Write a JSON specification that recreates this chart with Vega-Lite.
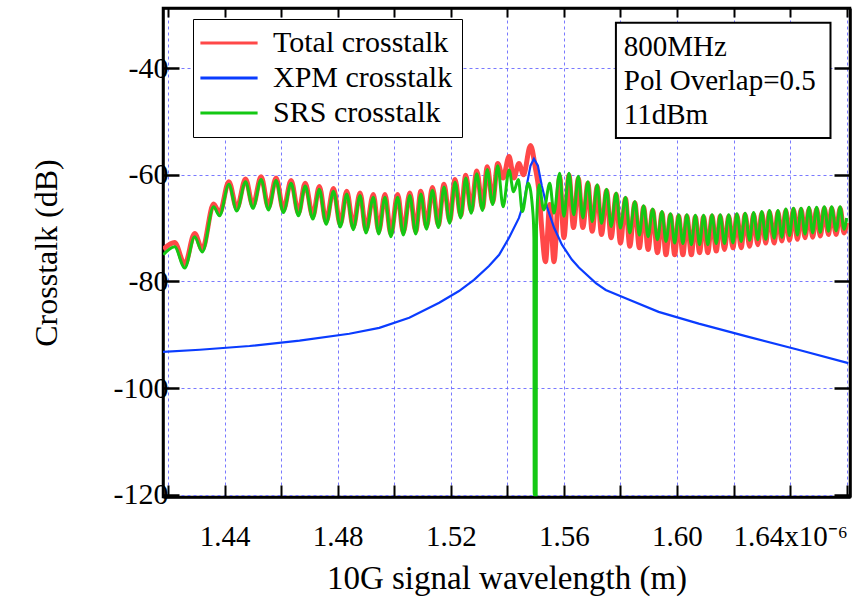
{
  "$schema": "https://vega.github.io/schema/vega-lite/v6.json",
  "width": 687,
  "height": 489,
  "autosize": {"type": "none"},
  "padding": {"left": 163, "top": 8, "right": 3, "bottom": 105},
  "background": "white",
  "config": {
    "view": {"stroke": "black", "strokeWidth": 2.5},
    "font": "Liberation Serif",
    "axis": {"labelFont": "Liberation Serif", "titleFont": "Liberation Serif"},
    "legend": {"labelFont": "Liberation Serif"}
  },
  "datasets": {
    "tot": [
      {"w":1.4183,"v":-74.0},{"w":1.4223,"v":-72.7},{"w":1.4259,"v":-76.8},{"w":1.4294,"v":-71.0},{"w":1.4321,"v":-74.0},
      {"w":1.4361,"v":-65.5},{"w":1.4382,"v":-67.2},{"w":1.4415,"v":-61.3},{"w":1.4443,"v":-66.3},{"w":1.4474,"v":-60.8},
      {"w":1.45,"v":-65.8},{"w":1.4529,"v":-60.4},{"w":1.4555,"v":-66.1},{"w":1.4582,"v":-60.6},{"w":1.4608,"v":-66.6},
      {"w":1.4635,"v":-61.1},{"w":1.4661,"v":-67.2},{"w":1.4685,"v":-61.6},{"w":1.4712,"v":-67.8},{"w":1.4735,"v":-62.2},
      {"w":1.4759,"v":-68.8},{"w":1.4785,"v":-62.6},{"w":1.4809,"v":-69.3},{"w":1.4832,"v":-63.1},{"w":1.4855,"v":-69.8},
      {"w":1.4879,"v":-63.4},{"w":1.49,"v":-70.4},{"w":1.4926,"v":-63.7},{"w":1.4945,"v":-70.6},{"w":1.4967,"v":-63.7},
      {"w":1.4988,"v":-71.1},{"w":1.5012,"v":-63.7},{"w":1.5032,"v":-70.8},{"w":1.5055,"v":-63.4},{"w":1.5076,"v":-70.6},
      {"w":1.5094,"v":-63.1},{"w":1.5114,"v":-69.7},{"w":1.5135,"v":-62.4},{"w":1.5156,"v":-69.4},{"w":1.5176,"v":-61.8},
      {"w":1.5196,"v":-68.6},{"w":1.5215,"v":-60.9},{"w":1.5235,"v":-67.6},{"w":1.5253,"v":-60.1},{"w":1.5272,"v":-66.7},
      {"w":1.5292,"v":-59.3},{"w":1.5312,"v":-66.2},{"w":1.5329,"v":-58.5},{"w":1.5348,"v":-65.1},
      {"w":1.5366,"v":-57.9},{"w":1.5385,"v":-60.6},{"w":1.5406,"v":-56.6},{"w":1.5423,"v":-60.6},{"w":1.5441,"v":-57.9},
      {"w":1.5457,"v":-60.0},{"w":1.5482,"v":-54.5},{"w":1.5499,"v":-58.7},{"w":1.5512,"v":-63.2},{"w":1.5522,"v":-70.3},
      {"w":1.5535,"v":-76.3},{"w":1.555,"v":-65.6},{"w":1.5565,"v":-76.3},{"w":1.5585,"v":-60.4},{"w":1.56,"v":-71.8},
      {"w":1.5618,"v":-60.1},{"w":1.5634,"v":-69.9},{"w":1.5651,"v":-60.7},{"w":1.5667,"v":-69.9},
      {"w":1.5685,"v":-61.6},{"w":1.57,"v":-70.6},{"w":1.5718,"v":-62.2},{"w":1.5733,"v":-71.2},{"w":1.5751,"v":-63.0},
      {"w":1.5767,"v":-71.8},{"w":1.5785,"v":-63.7},{"w":1.58,"v":-72.8},{"w":1.5818,"v":-64.5},{"w":1.5833,"v":-73.4},
      {"w":1.5851,"v":-65.3},{"w":1.5867,"v":-73.7},{"w":1.5882,"v":-66.1},{"w":1.5898,"v":-74.0},{"w":1.5914,"v":-66.7},
      {"w":1.5931,"v":-74.6},{"w":1.5947,"v":-67.2},{"w":1.5961,"v":-75.0},{"w":1.5977,"v":-67.6},{"w":1.5992,"v":-75.0},
      {"w":1.6006,"v":-67.8},{"w":1.6021,"v":-75.0},{"w":1.6035,"v":-67.8},{"w":1.6051,"v":-75.0},{"w":1.6065,"v":-67.9},
      {"w":1.608,"v":-74.6},{"w":1.6094,"v":-67.9},{"w":1.6109,"v":-74.6},{"w":1.6124,"v":-67.8},{"w":1.6139,"v":-74.3},
      {"w":1.6153,"v":-67.8},{"w":1.6168,"v":-74.0},{"w":1.6183,"v":-67.8},{"w":1.6198,"v":-73.7},{"w":1.6212,"v":-67.6},
      {"w":1.6227,"v":-73.7},{"w":1.6241,"v":-67.5},{"w":1.6257,"v":-73.4},{"w":1.6271,"v":-67.4},{"w":1.6286,"v":-73.1},
      {"w":1.63,"v":-67.2},{"w":1.6314,"v":-72.8},{"w":1.6327,"v":-67.0},{"w":1.6344,"v":-72.8},{"w":1.6357,"v":-67.0},
      {"w":1.6371,"v":-72.4},{"w":1.6385,"v":-66.7},{"w":1.6398,"v":-72.3},{"w":1.6412,"v":-66.5},{"w":1.6426,"v":-72.1},
      {"w":1.6439,"v":-66.5},{"w":1.6453,"v":-71.8},{"w":1.6467,"v":-66.4},{"w":1.648,"v":-71.7},{"w":1.6494,"v":-66.4},
      {"w":1.6507,"v":-71.5},{"w":1.6521,"v":-66.3},{"w":1.6536,"v":-71.2},{"w":1.6547,"v":-66.3},{"w":1.6563,"v":-71.2},
      {"w":1.6577,"v":-66.3},{"w":1.6591,"v":-70.9},{"w":1.66,"v":-69.0}
    ],
    "srs": [
      {"w":1.4183,"v":-75.0},{"w":1.4223,"v":-73.5},{"w":1.4259,"v":-77.5},{"w":1.4294,"v":-71.6},{"w":1.4321,"v":-74.5},
      {"w":1.4361,"v":-66.0},{"w":1.4382,"v":-67.7},{"w":1.4415,"v":-61.8},{"w":1.4443,"v":-66.8},{"w":1.4474,"v":-61.3},
      {"w":1.45,"v":-66.3},{"w":1.4529,"v":-60.9},{"w":1.4555,"v":-66.6},{"w":1.4582,"v":-61.1},{"w":1.4608,"v":-67.1},
      {"w":1.4635,"v":-61.6},{"w":1.4661,"v":-67.7},{"w":1.4685,"v":-62.1},{"w":1.4712,"v":-68.3},{"w":1.4735,"v":-62.7},
      {"w":1.4759,"v":-69.3},{"w":1.4785,"v":-63.1},{"w":1.4809,"v":-69.8},{"w":1.4832,"v":-63.6},{"w":1.4855,"v":-70.3},
      {"w":1.4879,"v":-63.9},{"w":1.49,"v":-70.9},{"w":1.4926,"v":-64.2},{"w":1.4945,"v":-71.1},{"w":1.4967,"v":-64.2},
      {"w":1.4988,"v":-71.6},{"w":1.5012,"v":-64.2},{"w":1.5032,"v":-71.3},{"w":1.5055,"v":-63.9},{"w":1.5076,"v":-71.1},
      {"w":1.5094,"v":-63.6},{"w":1.5114,"v":-70.2},{"w":1.5135,"v":-62.9},{"w":1.5156,"v":-69.9},{"w":1.5176,"v":-62.3},
      {"w":1.5196,"v":-69.1},{"w":1.5215,"v":-61.4},{"w":1.5235,"v":-68.1},{"w":1.5253,"v":-60.6},{"w":1.5272,"v":-67.2},
      {"w":1.5292,"v":-59.8},{"w":1.5312,"v":-66.7},{"w":1.5329,"v":-59.0},{"w":1.5348,"v":-65.6},{"w":1.5366,"v":-58.3},
      {"w":1.5385,"v":-66.0},{"w":1.5406,"v":-59.1},{"w":1.5422,"v":-63.2},{"w":1.5439,"v":-60.9},{"w":1.5453,"v":-66.9},
      {"w":1.5474,"v":-61.6},{"w":1.5491,"v":-67.5},{"w":1.5494,"v":-72.0},{"w":1.5495,"v":-120},{"w":1.5502,"v":-120},{"w":1.5503,"v":-70.0},
      {"w":1.5512,"v":-61.9},
      {"w":1.5529,"v":-66.6},{"w":1.555,"v":-61.6},{"w":1.5565,"v":-67.2},{"w":1.5585,"v":-59.7},{"w":1.56,"v":-67.8},
      {"w":1.5618,"v":-59.7},{"w":1.5635,"v":-67.5},{"w":1.5651,"v":-60.3},{"w":1.5667,"v":-68.1},{"w":1.5685,"v":-61.3},
      {"w":1.57,"v":-68.8},{"w":1.5718,"v":-61.9},{"w":1.5733,"v":-69.1},{"w":1.5751,"v":-62.7},{"w":1.5767,"v":-69.7},
      {"w":1.5785,"v":-63.4},{"w":1.58,"v":-70.0},{"w":1.5818,"v":-64.2},{"w":1.5833,"v":-70.9},{"w":1.5851,"v":-65.0},
      {"w":1.5867,"v":-71.3},{"w":1.5882,"v":-65.8},{"w":1.5898,"v":-71.6},{"w":1.5914,"v":-66.4},{"w":1.5931,"v":-72.2},
      {"w":1.5947,"v":-66.9},{"w":1.5961,"v":-72.5},{"w":1.5977,"v":-67.3},{"w":1.5992,"v":-72.8},{"w":1.6006,"v":-67.5},
      {"w":1.6021,"v":-72.9},{"w":1.6035,"v":-67.5},{"w":1.6051,"v":-73.1},{"w":1.6065,"v":-67.6},{"w":1.608,"v":-73.1},
      {"w":1.6094,"v":-67.6},{"w":1.6109,"v":-73.1},{"w":1.6124,"v":-67.5},{"w":1.6139,"v":-72.9},{"w":1.6153,"v":-67.5},
      {"w":1.6168,"v":-72.9},{"w":1.6183,"v":-67.5},{"w":1.6198,"v":-72.8},{"w":1.6212,"v":-67.3},{"w":1.6227,"v":-72.5},
      {"w":1.6241,"v":-67.2},{"w":1.6257,"v":-72.3},{"w":1.6271,"v":-67.1},{"w":1.6286,"v":-72.2},{"w":1.63,"v":-66.9},
      {"w":1.6314,"v":-72.1},{"w":1.6327,"v":-66.7},{"w":1.6344,"v":-71.9},{"w":1.6357,"v":-66.7},{"w":1.6371,"v":-71.7},
      {"w":1.6385,"v":-66.4},{"w":1.6398,"v":-71.4},{"w":1.6412,"v":-66.3},{"w":1.6426,"v":-71.3},{"w":1.6439,"v":-66.3},
      {"w":1.6453,"v":-71.1},{"w":1.6467,"v":-66.1},{"w":1.648,"v":-70.9},{"w":1.6494,"v":-66.1},{"w":1.6507,"v":-70.8},
      {"w":1.6521,"v":-66.0},{"w":1.6536,"v":-70.6},{"w":1.6547,"v":-66.0},{"w":1.6563,"v":-70.5},{"w":1.6577,"v":-66.0},
      {"w":1.6591,"v":-70.2},{"w":1.66,"v":-68.1}
    ],
    "xpm": [
      {"w":1.4182,"v":-93.2},{"w":1.4312,"v":-92.8},{"w":1.4488,"v":-92.1},{"w":1.4665,"v":-91.1},{"w":1.4841,"v":-89.8},
      {"w":1.4947,"v":-88.7},{"w":1.5053,"v":-86.8},{"w":1.5159,"v":-84.0},{"w":1.5229,"v":-81.8},{"w":1.5282,"v":-79.7},
      {"w":1.5335,"v":-77.1},{"w":1.5371,"v":-75.0},{"w":1.5406,"v":-71.8},{"w":1.5441,"v":-68.1},{"w":1.5459,"v":-65.1},
      {"w":1.5469,"v":-61.9},{"w":1.5482,"v":-58.3},{"w":1.5494,"v":-57.0},{"w":1.5508,"v":-58.3},{"w":1.5522,"v":-62.1},
      {"w":1.554,"v":-66.0},{"w":1.5565,"v":-69.9},{"w":1.5593,"v":-73.1},{"w":1.5628,"v":-75.9},{"w":1.5653,"v":-77.4},
      {"w":1.5713,"v":-80.3},{"w":1.5748,"v":-81.6},{"w":1.5829,"v":-83.4},{"w":1.5935,"v":-85.7},{"w":1.6077,"v":-87.9},
      {"w":1.6253,"v":-90.4},{"w":1.6429,"v":-92.8},{"w":1.6606,"v":-95.3}
    ]
  },
  "resolve": {"axis": {"x": "independent", "y": "independent"}},
  "layer": [
    {
      "data": {"name": "tot"},
      "mark": {"type": "line", "strokeWidth": 5, "interpolate": "monotone", "clip": true},
      "encoding": {
        "x": {"field": "w", "type": "quantitative",
          "scale": {"domain": [1.4182, 1.6612], "nice": false, "zero": false},
          "axis": {"values": [1.42,1.44,1.46,1.48,1.5,1.52,1.54,1.56,1.58,1.6,1.62,1.64,1.66],
            "grid": true, "gridColor": "#6a6aff", "gridDash": [3,3], "gridWidth": 1, "gridOpacity": 0.9,
            "tickSize": -12, "tickColor": "black", "tickWidth": 2,
            "domainColor": "black", "domainWidth": 2.5,
            "labelFont": "Liberation Serif", "labelFontSize": 29, "labelColor": "black", "labelPadding": 37,
            "labelOverlap": false, "labelFlush": false,
            "labelExpr": "round(datum.value*100) % 4 == 0 ? (round(datum.value*100) == 164 ? '1.64x10⁻⁶' : format(datum.value, '.2f')) : ''",
            "title": "10G signal wavelength (m)", "titleFont": "Liberation Serif", "titleFontSize": 33,
            "titleFontWeight": "normal", "titleColor": "black", "titlePadding": 11}},
        "y": {"field": "v", "type": "quantitative",
          "scale": {"domain": [-120.4, -28.75], "nice": false, "zero": false},
          "axis": {"values": [-120,-100,-80,-60,-40],
            "grid": true, "gridColor": "#6a6aff", "gridDash": [3,3], "gridWidth": 1, "gridOpacity": 0.9,
            "tickSize": -16, "tickColor": "black", "tickWidth": 2.5,
            "domainColor": "black", "domainWidth": 2.5,
            "labelFont": "Liberation Serif", "labelFontSize": 30, "labelColor": "black", "labelPadding": 11,
            "labelExpr": "'-' + abs(datum.value)",
            "title": "Crosstalk (dB)", "titleFont": "Liberation Serif", "titleFontSize": 32,
            "titleFontWeight": "normal", "titleColor": "black", "titlePadding": 50}},
        "color": {"datum": "Total crosstalk", "type": "nominal",
          "scale": {"domain": ["Total crosstalk", "XPM crosstalk", "SRS crosstalk"], "range": ["#ff4848", "#0a3cff", "#14c814"]},
          "legend": {"orient": "none", "legendX": 30, "legendY": 11, "title": null,
            "strokeColor": "black", "fillColor": "white", "padding": 9,
            "labelFont": "Liberation Serif", "labelFontSize": 30, "labelColor": "black", "labelOffset": 29, "labelLimit": 0,
            "symbolType": "M-2.6,0H2.6", "symbolSize": 484, "symbolOffset": 12, "symbolStrokeWidth": 3, "rowPadding": 5}}
      }
    },
    {
      "data": {"name": "xpm"},
      "mark": {"type": "line", "strokeWidth": 2.2, "clip": true},
      "encoding": {
        "x": {"field": "w", "type": "quantitative",
          "axis": {"orient": "top", "values": [1.42,1.44,1.46,1.48,1.5,1.52,1.54,1.56,1.58,1.6,1.62,1.64,1.66],
            "labels": false, "grid": false, "tickSize": -9, "tickColor": "black", "tickWidth": 2,
            "domainColor": "black", "domainWidth": 2.5, "title": null}},
        "y": {"field": "v", "type": "quantitative",
          "axis": {"orient": "right", "values": [-120,-100,-80,-60,-40],
            "labels": false, "grid": false, "tickSize": -16, "tickColor": "black", "tickWidth": 2.5,
            "domainColor": "black", "domainWidth": 2.5, "title": null}},
        "color": {"datum": "XPM crosstalk", "type": "nominal"}
      }
    },
    {
      "data": {"name": "srs"},
      "mark": {"type": "line", "strokeWidth": 3, "interpolate": "monotone", "clip": true},
      "encoding": {
        "x": {"field": "w", "type": "quantitative", "axis": null},
        "y": {"field": "v", "type": "quantitative", "axis": null},
        "color": {"datum": "SRS crosstalk", "type": "nominal"}
      }
    },
    {
      "data": {"values": [{}]},
      "mark": {"type": "rect", "fill": "white", "stroke": "black", "strokeWidth": 2},
      "encoding": {
        "x": {"datum": 1.5784, "type": "quantitative", "axis": null},
        "x2": {"datum": 1.6543},
        "y": {"datum": -31.5, "type": "quantitative", "axis": null},
        "y2": {"datum": -53.1}
      }
    },
    {
      "data": {"values": [{}]},
      "mark": {"type": "text", "align": "left", "baseline": "alphabetic", "font": "Liberation Serif", "fontSize": 29, "lineHeight": 34, "color": "black",
        "text": ["800MHz", "Pol Overlap=0.5", "11dBm"]},
      "encoding": {
        "x": {"datum": 1.5812, "type": "quantitative", "axis": null},
        "y": {"datum": -37.8, "type": "quantitative", "axis": null}
      }
    }
  ]
}
